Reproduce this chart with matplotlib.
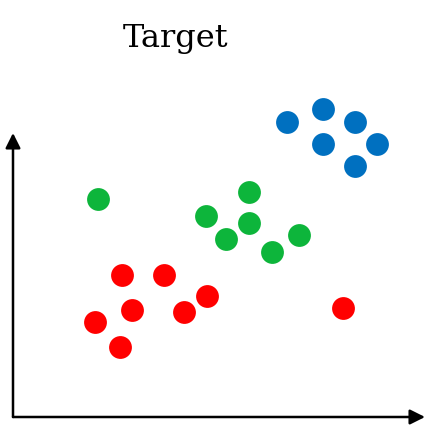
import matplotlib.pyplot as plt

# cluster points (x, y measured from the axis corner)
blue_x = [274, 310, 342, 310, 364, 342]
blue_y = [295, 308, 295, 273, 273, 251]
green_x = [85, 236, 193, 236, 213, 259, 286]
green_y = [218, 225, 201, 194, 178, 165, 182]
red_x = [109, 151, 194, 119, 171, 82, 107, 330]
red_y = [142, 142, 121, 107, 105, 95, 70, 109]

fig = plt.figure(figsize=(4.39, 4.30), dpi=100)
ax = fig.add_axes([0, 0, 1, 1])
ax.set_xlim(-13, 426)
ax.set_ylim(-13, 417)
ax.axis('off')

# axis arrows
arrow = dict(arrowstyle='-|>,head_length=0.9,head_width=0.45', color='black', lw=1.8,
             shrinkA=0, shrinkB=0)
ax.annotate('', xy=(0, 284), xytext=(0, 0), arrowprops=arrow)
ax.annotate('', xy=(412, 0), xytext=(0, 0), arrowprops=arrow)

s = 270
ax.scatter(blue_x, blue_y, s=s, color='#0070C0', linewidths=0)
ax.scatter(green_x, green_y, s=s, color='#0DB53B', linewidths=0)
ax.scatter(red_x, red_y, s=s, color='#FF0000', linewidths=0)

fig.text(176/439, 1 - 38/430, 'Target', ha='center', va='center',
         family='DejaVu Serif', fontsize=23)

fig.savefig('out.png', dpi=100)
